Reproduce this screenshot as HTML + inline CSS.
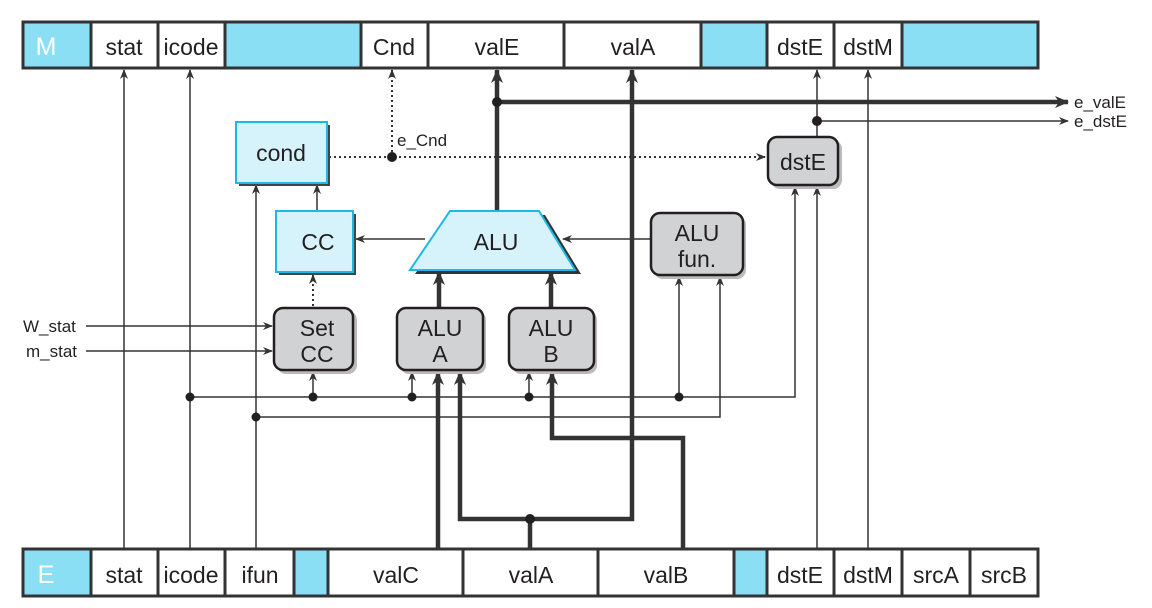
<!DOCTYPE html>
<html><head><meta charset="utf-8"><style>
html,body{margin:0;padding:0;background:#fff;}
svg{display:block;}
text{font-family:"Liberation Sans",sans-serif;fill:#231f20;}
</style></head><body>
<svg width="1152" height="608" viewBox="0 0 1152 608" xmlns="http://www.w3.org/2000/svg">
<defs>
<marker id="a" markerWidth="10" markerHeight="8" refX="9" refY="4" orient="auto" markerUnits="userSpaceOnUse"><path d="M0,0 L10,4 L0,8 L3,4 z" fill="#333"/></marker>
<marker id="t" markerWidth="14" markerHeight="12" refX="13" refY="6" orient="auto" markerUnits="userSpaceOnUse"><path d="M0,0 L14,6 L0,12 L4,6 z" fill="#333"/></marker>
</defs>
<g stroke="#333" stroke-width="3">
<rect x="23" y="22" width="68" height="46" fill="#8adff5"/>
<rect x="91" y="22" width="67" height="46" fill="#fff"/>
<rect x="158" y="22" width="67" height="46" fill="#fff"/>
<rect x="225" y="22" width="136" height="46" fill="#8adff5"/>
<rect x="361" y="22" width="67" height="46" fill="#fff"/>
<rect x="428" y="22" width="136" height="46" fill="#fff"/>
<rect x="564" y="22" width="137" height="46" fill="#fff"/>
<rect x="701" y="22" width="66" height="46" fill="#8adff5"/>
<rect x="767" y="22" width="67" height="46" fill="#fff"/>
<rect x="834" y="22" width="68" height="46" fill="#fff"/>
<rect x="902" y="22" width="136" height="46" fill="#8adff5"/>
</g>
<g font-size="23" text-anchor="middle">
<text x="46" y="55" font-size="25" style="fill:#fff">M</text>
<text x="124" y="55">stat</text><text x="191" y="55">icode</text>
<text x="394" y="55">Cnd</text><text x="497" y="55">valE</text><text x="633" y="55">valA</text>
<text x="800" y="55">dstE</text><text x="868" y="55">dstM</text>
</g>
<g stroke="#333" stroke-width="3">
<rect x="23" y="549" width="68" height="47" fill="#8adff5"/>
<rect x="91" y="549" width="67" height="47" fill="#fff"/>
<rect x="158" y="549" width="67" height="47" fill="#fff"/>
<rect x="225" y="549" width="69" height="47" fill="#fff"/>
<rect x="294" y="549" width="34" height="47" fill="#8adff5"/>
<rect x="328" y="549" width="135" height="47" fill="#fff"/>
<rect x="463" y="549" width="135" height="47" fill="#fff"/>
<rect x="598" y="549" width="136" height="47" fill="#fff"/>
<rect x="734" y="549" width="33" height="47" fill="#8adff5"/>
<rect x="767" y="549" width="67" height="47" fill="#fff"/>
<rect x="834" y="549" width="68" height="47" fill="#fff"/>
<rect x="902" y="549" width="68" height="47" fill="#fff"/>
<rect x="970" y="549" width="68" height="47" fill="#fff"/>
</g>
<g font-size="23" text-anchor="middle">
<text x="46" y="583" font-size="25" style="fill:#fff">E</text>
<text x="124" y="583">stat</text><text x="191" y="583">icode</text><text x="260" y="583">ifun</text>
<text x="396" y="583">valC</text><text x="531" y="583">valA</text><text x="666" y="583">valB</text>
<text x="800" y="583">dstE</text><text x="868" y="583">dstM</text><text x="936" y="583">srcA</text><text x="1004" y="583">srcB</text>
</g>
<g stroke="#333" stroke-width="1.5" fill="none">
<path d="M124,548 V70" marker-end="url(#a)"/>
<path d="M190,548 V70" marker-end="url(#a)"/>
<path d="M256,548 V185" marker-end="url(#a)"/>
<path d="M868,548 V70" marker-end="url(#a)"/>
<path d="M817,548 V187" marker-end="url(#a)"/>
<path d="M190,397 H795 V187" marker-end="url(#a)"/>
<path d="M256,417 H720 V277" marker-end="url(#a)"/>
<path d="M679,397 V277" marker-end="url(#a)"/>
<path d="M313,397 V372" marker-end="url(#a)"/>
<path d="M412,397 V372" marker-end="url(#a)"/>
<path d="M529,397 V372" marker-end="url(#a)"/>
<path d="M86,326 H272" marker-end="url(#a)"/>
<path d="M86,351 H272" marker-end="url(#a)"/>
<path d="M817,136 V70" marker-end="url(#a)"/>
<path d="M817,121 H1068" marker-end="url(#a)"/>
<path d="M317,211 V185" marker-end="url(#a)"/>
<path d="M425,239 H356" marker-end="url(#a)"/>
<path d="M651,239 H563" marker-end="url(#a)"/>
</g>
<g stroke="#333" stroke-width="2" stroke-dasharray="2,3" fill="none">
<path d="M329,157 H765" marker-end="url(#a)"/>
<path d="M392,157 V70" marker-end="url(#a)"/>
<path d="M313,306 V275" marker-end="url(#a)"/>
</g>
<g stroke="#333" stroke-width="4.5" fill="none">
<path d="M497,210 V70" marker-end="url(#t)"/>
<path d="M497,102 H1068" marker-end="url(#t)"/>
<path d="M438,548 V372" marker-end="url(#t)"/>
<path d="M530,548 V519 H460 V372" marker-end="url(#t)"/>
<path d="M530,519 H632 V70" marker-end="url(#t)"/>
<path d="M683,548 V438 H552 V372" marker-end="url(#t)"/>
<path d="M439,307 V272" marker-end="url(#t)"/>
<path d="M551,307 V272" marker-end="url(#t)"/>
</g>
<g fill="#231f20">
<circle cx="497" cy="102" r="5"/><circle cx="817" cy="121" r="5"/><circle cx="392" cy="157" r="5"/>
<circle cx="190" cy="397" r="4.5"/><circle cx="313" cy="397" r="4.5"/><circle cx="412" cy="397" r="4.5"/>
<circle cx="529" cy="397" r="4.5"/><circle cx="679" cy="397" r="4.5"/><circle cx="256" cy="417" r="4.5"/>
<circle cx="530" cy="519" r="5"/>
</g>
<rect x="239" y="125" width="91" height="61" fill="#444"/>
<rect x="236" y="122" width="91" height="61" fill="#d6f3fc" stroke="#1eb8e6" stroke-width="2"/>
<rect x="279" y="214" width="77" height="61" fill="#444"/>
<rect x="276" y="211" width="77" height="61" fill="#d6f3fc" stroke="#1eb8e6" stroke-width="2"/>
<polygon points="455,215 545,215 581,274 415,274" fill="#333"/>
<polygon points="450,211 539,211 575,270 410,270" fill="#d6f3fc" stroke="#1eb8e6" stroke-width="2"/>
<g stroke="#231f20" stroke-width="2.5">
<rect x="277" y="311" width="80" height="63" rx="9" fill="#bbb" stroke="none"/>
<rect x="274" y="308" width="79" height="62" rx="9" fill="#d1d2d4"/>
<rect x="400" y="311" width="86" height="63" rx="9" fill="#bbb" stroke="none"/>
<rect x="397" y="308" width="86" height="62" rx="9" fill="#d1d2d4"/>
<rect x="512" y="311" width="85" height="63" rx="9" fill="#bbb" stroke="none"/>
<rect x="509" y="308" width="85" height="62" rx="9" fill="#d1d2d4"/>
<rect x="654" y="216" width="92" height="63" rx="9" fill="#bbb" stroke="none"/>
<rect x="651" y="213" width="92" height="62" rx="9" fill="#d1d2d4"/>
<rect x="771" y="140" width="71" height="49" rx="9" fill="#bbb" stroke="none"/>
<rect x="768" y="137" width="70" height="48" rx="9" fill="#d1d2d4"/>
</g>
<g font-size="23" text-anchor="middle">
<text x="281" y="161">cond</text>
<text x="318" y="250">CC</text>
<text x="496" y="250">ALU</text>
<text x="317" y="336">Set</text><text x="317" y="362">CC</text>
<text x="440" y="336">ALU</text><text x="440" y="362">A</text>
<text x="551" y="336">ALU</text><text x="551" y="362">B</text>
<text x="697" y="241">ALU</text><text x="697" y="267">fun.</text>
<text x="803" y="170">dstE</text>
</g>
<g font-size="17">
<text x="397" y="146">e_Cnd</text>
<text x="1074" y="108">e_valE</text>
<text x="1074" y="127">e_dstE</text>
<text x="23" y="332">W_stat</text>
<text x="26" y="357">m_stat</text>
</g>
</svg>
</body></html>
